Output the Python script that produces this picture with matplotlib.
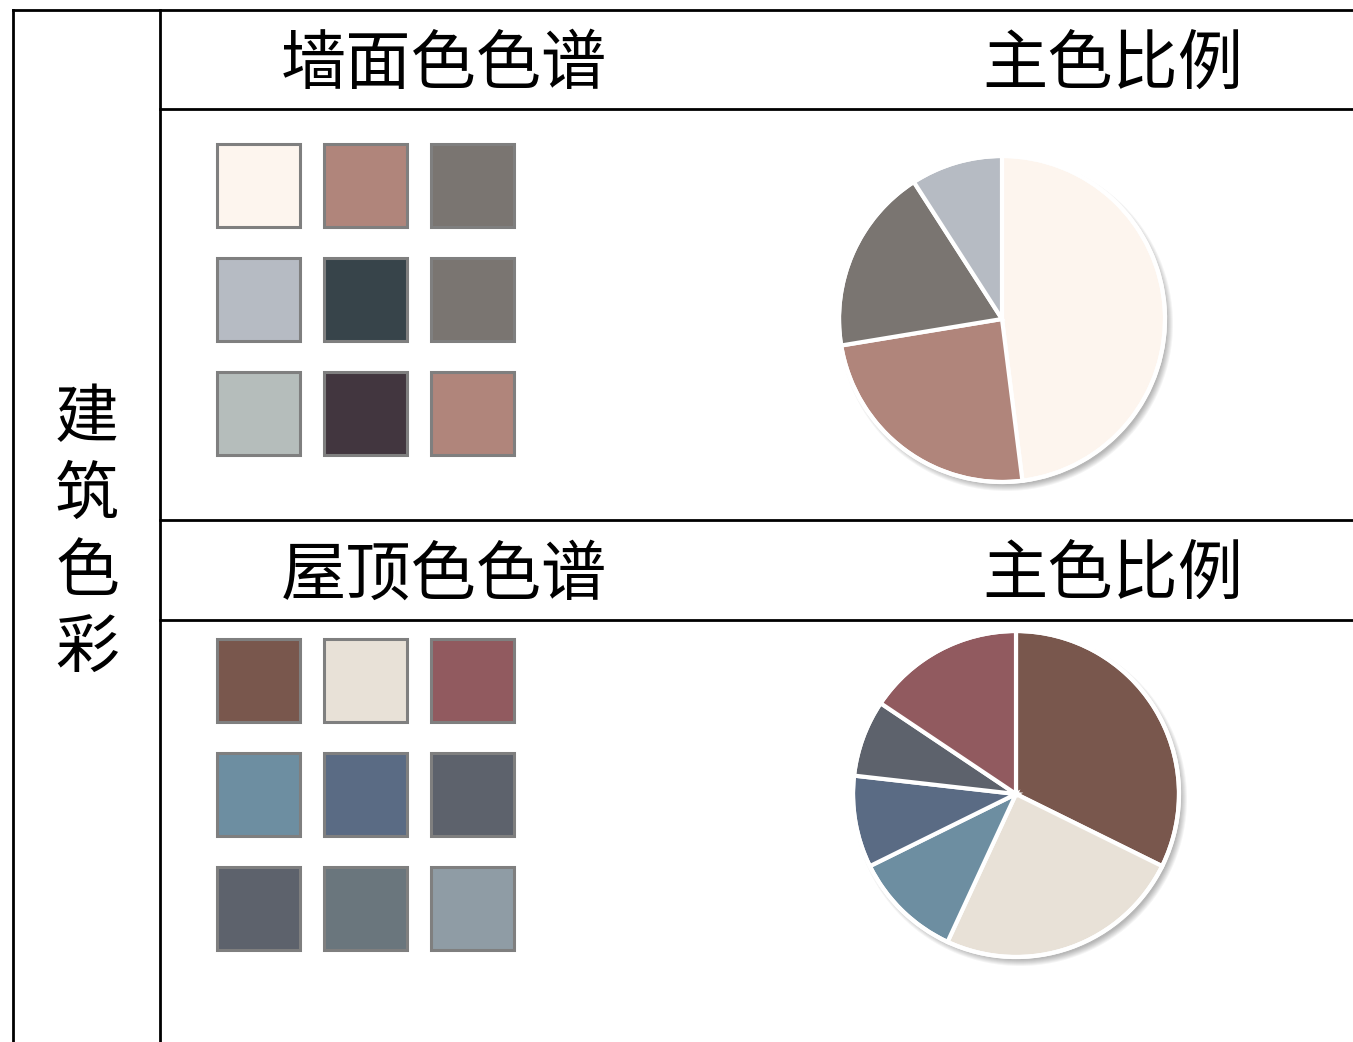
import matplotlib.pyplot as plt
from matplotlib.patches import Rectangle, Circle

plt.rcParams['font.family'] = ['Noto Sans CJK SC', 'DejaVu Sans']

W, H = 1353, 1042

side_label = '建筑色彩'
wall_title = '墙面色色谱'
roof_title = '屋顶色色谱'
ratio_title = '主色比例'

# 3x3 swatch grids, row by row
wall_swatches = ['#FDF5EE', '#B0857B', '#7A7571',
                 '#B6BBC3', '#37444A', '#7A7571',
                 '#B5BDBB', '#42363F', '#B0857B']
roof_swatches = ['#79574D', '#E8E1D7', '#915A5F',
                 '#6D8EA1', '#5A6B84', '#5D626C',
                 '#5D626C', '#6A767D', '#8F9CA5']

# main colour shares, clockwise from 12 o'clock
wall_share = [48, 24.4, 18.5, 9.1]
wall_share_colors = ['#FDF5EE', '#B0857B', '#7A7571', '#B6BBC3']
roof_share = [32.3, 24.6, 10.8, 9.1, 7.6, 15.6]
roof_share_colors = ['#79574D', '#E8E1D7', '#6D8EA1', '#5A6B84', '#5D626C', '#915A5F']

fig = plt.figure(figsize=(W / 100, H / 100), dpi=100)
ax = fig.add_axes([0, 0, 1, 1])
ax.set_xlim(0, W)
ax.set_ylim(0, H)
ax.set_aspect('equal')
ax.axis('off')


def Y(y):
    # work in top-down pixel rows
    return H - y


# table lines
lw = 2
ax.plot([12.5, 12.5], [Y(10), Y(H + 5)], color='black', lw=lw)
ax.plot([160, 160], [Y(10), Y(H + 5)], color='black', lw=lw)
ax.plot([12.5, W + 5], [Y(10), Y(10)], color='black', lw=lw)
for yy in [109, 520, 620]:
    ax.plot([160, W + 5], [Y(yy), Y(yy)], color='black', lw=lw)

# vertical side label, one character per line
for i, ch in enumerate(side_label):
    ax.text(87, Y(419 + i * 77), ch, fontsize=46, ha='center', va='center')

# section headers
for y0, title in [(66, wall_title), (576, roof_title)]:
    ax.text(444, Y(y0), title, fontsize=47, ha='center', va='center')
    ax.text(1113, Y(y0), ratio_title, fontsize=47, ha='center', va='center')


def swatch_grid(colors, top):
    for k, c in enumerate(colors):
        r, col = divmod(k, 3)
        x0 = 217 + col * 107
        y0 = top + r * 114
        ax.add_patch(Rectangle((x0, Y(y0 + 83)), 83, 83, facecolor=c,
                               edgecolor='#7F7F7F', lw=2.2))


swatch_grid(wall_swatches, 144)
swatch_grid(roof_swatches, 639)


def share_pie(values, colors, cx, cy, r):
    # soft drop shadow under the pie
    for k in range(7):
        ax.add_patch(Circle((cx + 4, Y(cy) - 5), r + 4 - k, facecolor='black',
                            edgecolor='none', alpha=0.045, zorder=1))
    ax.pie(values, colors=colors, startangle=90, counterclock=False,
           center=(cx, Y(cy)), radius=r, frame=True,
           wedgeprops=dict(edgecolor='white', linewidth=3))
    ax.add_patch(Circle((cx, Y(cy)), r, facecolor='none', edgecolor='white',
                        lw=3, zorder=5))


share_pie(wall_share, wall_share_colors, 1002, 319, 163)
share_pie(roof_share, roof_share_colors, 1016, 794, 163)

ax.set_xlim(0, W)
ax.set_ylim(0, H)
ax.axis('off')

fig.savefig('out.png', dpi=100, facecolor='white')
